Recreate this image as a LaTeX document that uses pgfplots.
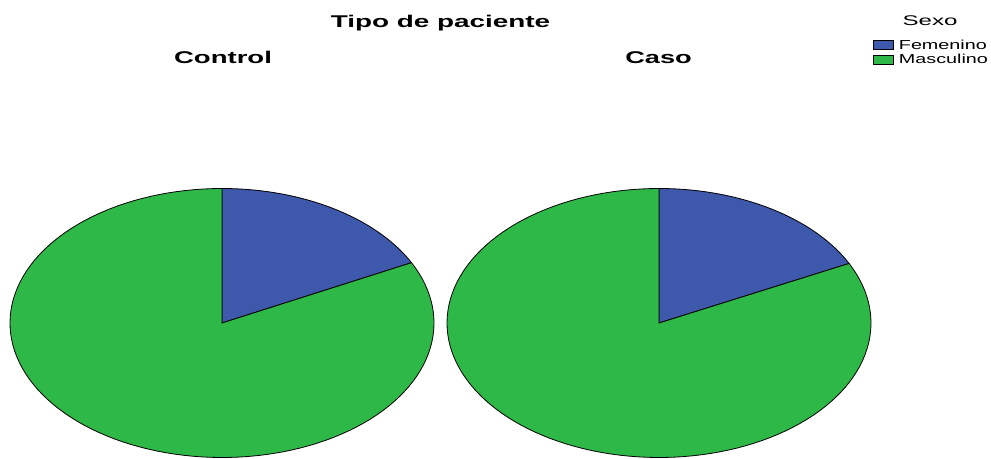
\documentclass[border=0pt]{standalone}
\usepackage{pgfplots}
\usepackage{pgfplotstable}
\usepackage{graphicx}
\usepackage{fontspec}
\setmainfont{Liberation Sans}
\pgfplotsset{compat=1.18}
\definecolor{fem}{HTML}{3E58AC}
\definecolor{masc}{HTML}{2EB848}
% percentages by sex for each patient type
\pgfplotstableread{
tipo fem masc
Control 17.6 82.4
Caso 17.7 82.3
}\pietable
\pgfplotstablegetelem{0}{fem}\of\pietable \let\femA\pgfplotsretval
\pgfplotstablegetelem{1}{fem}\of\pietable \let\femB\pgfplotsretval
\pgfmathsetmacro\eA{90-3.6*\femA}
\pgfmathsetmacro\eB{90-3.6*\femB}
\pgfplotsset{
  pie/.style={hide axis, scale only axis, width=424bp, height=269bp,
    xmin=-1, xmax=1, ymin=-1, ymax=1, anchor=center, clip=false},
  slice/.style={draw=black, line width=0.8bp, samples=120},
}
\newcommand{\sx}[2]{\scalebox{#1}[1]{#2}}
\begin{document}
\begin{tikzpicture}
\path[use as bounding box] (0,0) rectangle (991bp,-459bp);
\begin{axis}[pie, at={(222bp,-323bp)}]
\addplot[slice, fill=fem, domain=\eA:90] ({cos(x)},{sin(x)}) -- (axis cs:0,0) -- cycle;
\addplot[slice, fill=masc, domain=-270:\eA] ({cos(x)},{sin(x)}) -- (axis cs:0,0) -- cycle;
\end{axis}
\begin{axis}[pie, at={(659bp,-323bp)},
  legend cell align=left,
  legend image code/.code={\draw[#1, draw=black, line width=0.8bp] (0bp,-4.5bp) rectangle (20bp,4.5bp);},
  legend style={draw=none, fill=none, at={(1.005,1.556)}, anchor=north west,
    inner sep=0pt, outer sep=0pt, row sep=1.5bp,
    nodes={inner sep=1bp, anchor=west},
    /tikz/every odd column/.append style={column sep=4bp},
    font=\fontsize{13bp}{15bp}\selectfont},
]
\addplot[slice, fill=fem, domain=\eB:90] ({cos(x)},{sin(x)}) -- (axis cs:0,0) -- cycle;
\addlegendentry{\sx{1.52}{Femenino}}
\addplot[slice, fill=masc, domain=-270:\eB] ({cos(x)},{sin(x)}) -- (axis cs:0,0) -- cycle;
\addlegendentry{\sx{1.52}{Masculino}}
\end{axis}
\node[anchor=base] at (440.5bp,-27.5bp) {\sx{1.64}{\fontsize{17bp}{20bp}\selectfont\bfseries Tipo de paciente}};
\node[anchor=base] at (223bp,-63bp) {\sx{1.62}{\fontsize{17bp}{20bp}\selectfont\bfseries Control}};
\node[anchor=base] at (658.5bp,-63bp) {\sx{1.6}{\fontsize{17bp}{20bp}\selectfont\bfseries Caso}};
\node[anchor=base] at (930bp,-25bp) {\sx{1.72}{\fontsize{14bp}{16bp}\selectfont Sexo}};
\end{tikzpicture}
\end{document}
